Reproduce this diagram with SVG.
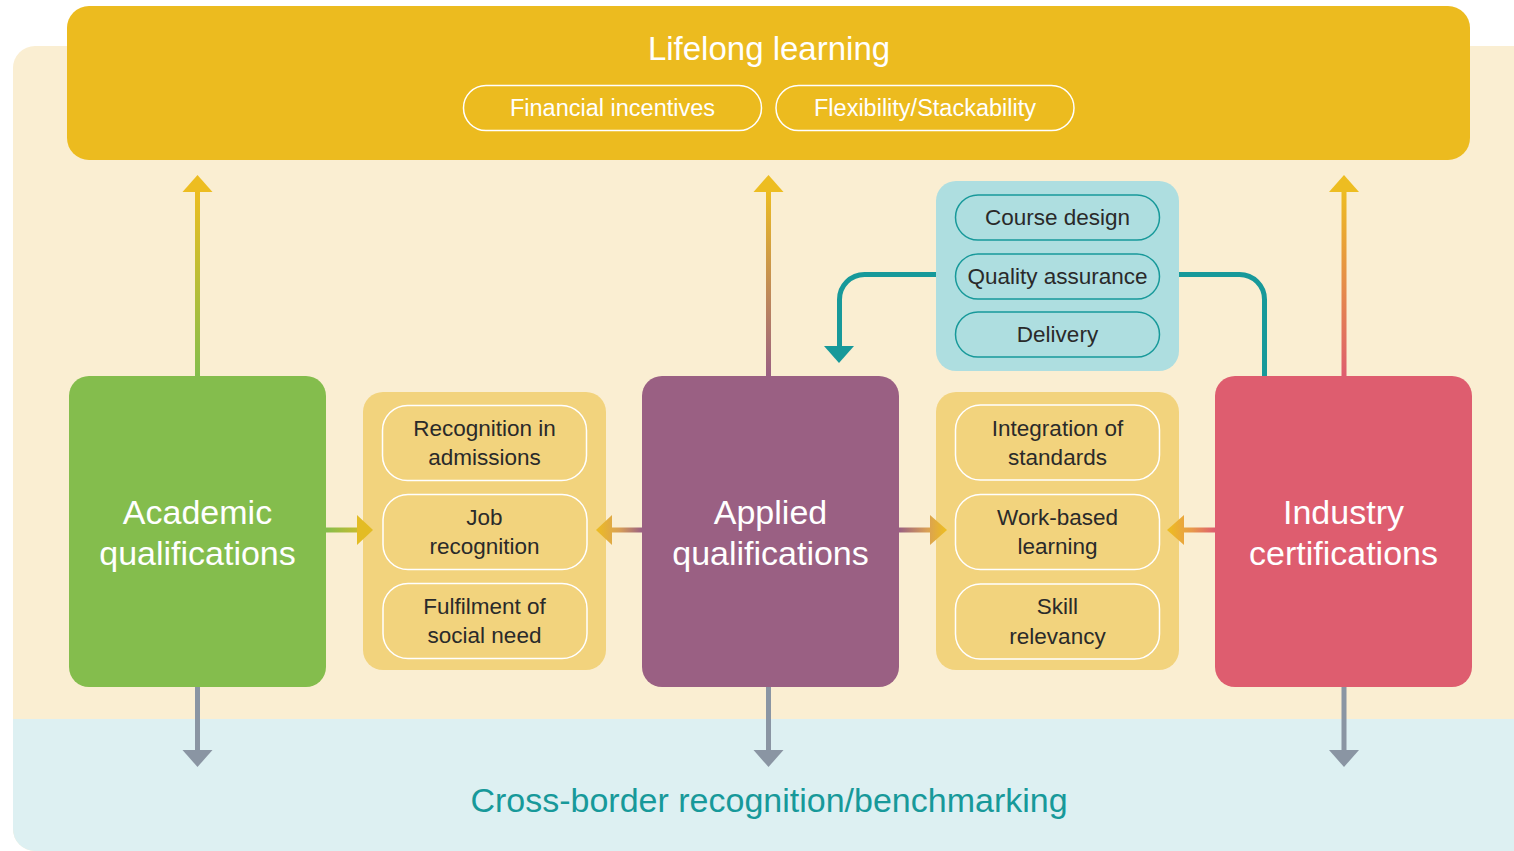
<svg xmlns="http://www.w3.org/2000/svg" width="1514" height="851" viewBox="0 0 1514 851">
<defs>
<style>
.t{font-family:"Liberation Sans",Arial,sans-serif;text-anchor:middle}
.big{font-size:34px;fill:#fff}
.pillw{fill:none;stroke:#fff;stroke-width:1.5}
.pillt{fill:none;stroke:#17999A;stroke-width:1.5}
.lbl{font-size:22.5px;fill:#2a2a2a}
.wl{font-size:23.5px;fill:#fff}
.gray{stroke:#8A95A3;stroke-width:5;fill:none}
.grayh{fill:#8A95A3}
.teal{stroke:#17999A;stroke-width:5;fill:none}
</style>
<clipPath id="bgclip"><rect x="13" y="46" width="1530" height="805" rx="22"/></clipPath>
<linearGradient id="gUpA" gradientUnits="userSpaceOnUse" x1="0" y1="376" x2="0" y2="190"><stop offset="0" stop-color="#84BD4D"/><stop offset="1" stop-color="#EDBD21"/></linearGradient>
<linearGradient id="gUpB" gradientUnits="userSpaceOnUse" x1="0" y1="376" x2="0" y2="190"><stop offset="0" stop-color="#9A6083"/><stop offset="1" stop-color="#EDBD21"/></linearGradient>
<linearGradient id="gUpC" gradientUnits="userSpaceOnUse" x1="0" y1="376" x2="0" y2="190"><stop offset="0" stop-color="#DE5D6F"/><stop offset="1" stop-color="#EDBD21"/></linearGradient>
<linearGradient id="gH1" gradientUnits="userSpaceOnUse" x1="326" y1="0" x2="373" y2="0"><stop offset="0" stop-color="#84BD4D"/><stop offset="1" stop-color="#E5BC22"/></linearGradient>
<linearGradient id="gH2" gradientUnits="userSpaceOnUse" x1="642" y1="0" x2="596" y2="0"><stop offset="0" stop-color="#9A6083"/><stop offset="0.5" stop-color="#D9A055"/><stop offset="1" stop-color="#EDBD21"/></linearGradient>
<linearGradient id="gH3" gradientUnits="userSpaceOnUse" x1="899" y1="0" x2="946" y2="0"><stop offset="0" stop-color="#9A6083"/><stop offset="0.6" stop-color="#D9A055"/><stop offset="1" stop-color="#EDBD21"/></linearGradient>
<linearGradient id="gH4" gradientUnits="userSpaceOnUse" x1="1215" y1="0" x2="1168" y2="0"><stop offset="0" stop-color="#DE5D6F"/><stop offset="0.5" stop-color="#E89A4A"/><stop offset="1" stop-color="#EDBD21"/></linearGradient>
</defs>

<g id="background" clip-path="url(#bgclip)">
<rect x="13" y="46" width="1530" height="805" fill="#FAEED2"/>
<rect x="13" y="719" width="1530" height="140" fill="#DDF0F2"/>
</g>

<g id="lifelong">
<rect x="67" y="6" width="1403" height="154" rx="22" fill="#ECBB1F"/>
<text class="t" x="769" y="60" font-size="33" fill="#fff">Lifelong learning</text>
<rect class="pillw" x="463.5" y="85.5" width="298" height="45" rx="22.5"/>
<text class="t wl" x="612.5" y="116">Financial incentives</text>
<rect class="pillw" x="776" y="85.5" width="298" height="45" rx="22.5"/>
<text class="t wl" x="925" y="116">Flexibility/Stackability</text>
</g>

<g id="academic">
<rect x="69" y="376" width="257" height="311" rx="20" fill="#84BD4D"/>
<text class="t big" x="197.5" y="524">Academic</text>
<text class="t big" x="197.5" y="565">qualifications</text>
</g>

<g id="applied">
<rect x="642" y="376" width="257" height="311" rx="20" fill="#9A6083"/>
<text class="t big" x="770.5" y="524">Applied</text>
<text class="t big" x="770.5" y="565">qualifications</text>
</g>

<g id="industry">
<rect x="1215" y="376" width="257" height="311" rx="20" fill="#DE5D6F"/>
<text class="t big" x="1343.5" y="524">Industry</text>
<text class="t big" x="1343.5" y="565">certifications</text>
</g>

<g id="benefits-left">
<rect x="363" y="392" width="243" height="278" rx="20" fill="#F2D37D"/>
<rect class="pillw" x="382.5" y="405.5" width="204" height="75" rx="25"/>
<text class="t lbl" x="484.5" y="436">Recognition in</text>
<text class="t lbl" x="484.5" y="465">admissions</text>
<rect class="pillw" x="383" y="494.5" width="204" height="75" rx="25"/>
<text class="t lbl" x="484.5" y="525">Job</text>
<text class="t lbl" x="484.5" y="554">recognition</text>
<rect class="pillw" x="383" y="583.5" width="204" height="75" rx="25"/>
<text class="t lbl" x="484.5" y="614">Fulfilment of</text>
<text class="t lbl" x="484.5" y="643">social need</text>
</g>

<g id="benefits-right">
<rect x="936" y="392" width="243" height="278" rx="20" fill="#F2D37D"/>
<rect class="pillw" x="955.5" y="405" width="204" height="75" rx="25"/>
<text class="t lbl" x="1057.5" y="436">Integration of</text>
<text class="t lbl" x="1057.5" y="465">standards</text>
<rect class="pillw" x="955.5" y="494.5" width="204" height="75" rx="25"/>
<text class="t lbl" x="1057.5" y="525">Work-based</text>
<text class="t lbl" x="1057.5" y="554">learning</text>
<rect class="pillw" x="955.5" y="584" width="204" height="75" rx="25"/>
<text class="t lbl" x="1057.5" y="614">Skill</text>
<text class="t lbl" x="1057.5" y="644">relevancy</text>
</g>

<g id="provision">
<rect x="936" y="181" width="243" height="190" rx="20" fill="#AEDEE0"/>
<rect class="pillt" x="955.5" y="195" width="204" height="45" rx="22.5"/>
<text class="t lbl" x="1057.5" y="225">Course design</text>
<rect class="pillt" x="955.5" y="254" width="204" height="45" rx="22.5"/>
<text class="t lbl" x="1057.5" y="284">Quality assurance</text>
<rect class="pillt" x="955.5" y="312" width="204" height="45" rx="22.5"/>
<text class="t lbl" x="1057.5" y="342">Delivery</text>
</g>

<g id="crossborder">
<text class="t" x="769" y="812" font-size="34" fill="#17999A">Cross-border recognition/benchmarking</text>
</g>

<g id="connectors">
<!-- up arrows -->
<line x1="197.5" y1="376" x2="197.5" y2="190" stroke="url(#gUpA)" stroke-width="5"/>
<polygon points="182.5,192 212.5,192 197.5,175" fill="#EDBD21"/>
<line x1="768.5" y1="376" x2="768.5" y2="190" stroke="url(#gUpB)" stroke-width="5"/>
<polygon points="753.5,192 783.5,192 768.5,175" fill="#EDBD21"/>
<line x1="1344" y1="376" x2="1344" y2="190" stroke="url(#gUpC)" stroke-width="5"/>
<polygon points="1329,192 1359,192 1344,175" fill="#EDBD21"/>
<!-- horizontal arrows -->
<line x1="326" y1="530" x2="358" y2="530" stroke="url(#gH1)" stroke-width="5"/>
<polygon points="357,515 357,545 373,530" fill="#E3BC24"/>
<line x1="642" y1="530" x2="611" y2="530" stroke="url(#gH2)" stroke-width="5"/>
<polygon points="612,515 612,545 596,530" fill="url(#gH2)"/>
<line x1="899" y1="530" x2="931" y2="530" stroke="url(#gH3)" stroke-width="5"/>
<polygon points="930,515 930,545 947,530" fill="url(#gH3)"/>
<line x1="1215" y1="530" x2="1183" y2="530" stroke="url(#gH4)" stroke-width="5"/>
<polygon points="1184,515 1184,545 1167,530" fill="url(#gH4)"/>
<!-- teal connectors -->
<path class="teal" d="M936,274.5 H864.5 A25,25 0 0 0 839.5,299.5 V348"/>
<polygon points="824,346 854,346 839,363" fill="#17999A"/>
<path class="teal" d="M1179,274.5 H1239.5 A25,25 0 0 1 1264.5,299.5 V376"/>
<!-- down arrows -->
<line class="gray" x1="197.5" y1="687" x2="197.5" y2="752"/>
<polygon class="grayh" points="182.5,750 212.5,750 197.5,767"/>
<line class="gray" x1="768.5" y1="687" x2="768.5" y2="752"/>
<polygon class="grayh" points="753.5,750 783.5,750 768.5,767"/>
<line class="gray" x1="1344" y1="687" x2="1344" y2="752"/>
<polygon class="grayh" points="1329,750 1359,750 1344,767"/>
</g>
</svg>
